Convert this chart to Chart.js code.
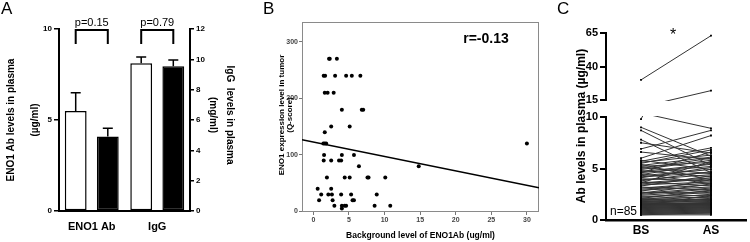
<!DOCTYPE html>
<html>
<head>
<meta charset="utf-8">
<script src="https://cdn.jsdelivr.net/npm/chart.js@4.4.0/dist/chart.umd.min.js"></script>
<style>
  body { margin: 0; background: #fff; }
  #wrap { position: relative; width: 750px; height: 242px; overflow: hidden; font-family: "Liberation Sans", Arial, sans-serif; }
  canvas { position: absolute; top: 0; }
  .tag { position: absolute; top: 0; font-size: 17px; line-height: 17px; color: #000; }
</style>
</head>
<body>
<div id="wrap">
  <canvas id="chartA" width="250" height="242" style="left:0"></canvas>
  <canvas id="chartB" width="300" height="242" style="left:250px"></canvas>
  <canvas id="chartCLow" width="210" height="242" style="left:540px"></canvas>
  <canvas id="chartCHigh" width="210" height="242" style="left:540px"></canvas>
  <div class="tag" style="left:1px">A</div>
  <div class="tag" style="left:263px">B</div>
  <div class="tag" style="left:557px">C</div>
</div>
<script>
// ---------- panel A: mean + SEM, before (white) / after (black)
const groupLabels = ['ENO1 Ab', 'IgG'];
const eno1Mean = [5.5, 4.1];      // µg/ml, left axis
const eno1Upper = [6.5, 4.55];
const iggMean = [9.75, 9.55];     // mg/ml, right axis
const iggUpper = [10.15, 9.95];
const pLabels = ['p=0.15', 'p=0.79'];

// ---------- panel B: scatter + fit line
const bgLevel = [2.2, 2.3, 3.3,
  1.45, 1.65, 3.05, 4.6, 5.4, 6.6,
  1.6, 2.0, 2.85,
  4.0, 6.8, 7.0,
  2.5, 5.1,
  1.6,
  1.4, 1.6, 1.8,
  1.5, 4.0, 5.7,
  1.45, 2.5, 3.6, 3.9,
  6.4, 14.8,
  1.9, 4.4, 5.1, 7.6, 7.75, 10.1,
  0.6, 2.5,
  1.1, 2.1, 2.6, 3.9, 5.3, 8.9,
  0.8, 2.7, 5.5, 5.7,
  2.95, 4.0, 4.4, 4.6, 8.6, 10.8,
  4.0,
  30];
const qScore = [270, 270, 270,
  240, 240, 240, 240, 240, 240,
  210, 210, 210,
  180, 180, 180,
  150, 150,
  140,
  120, 120, 120,
  100, 100, 100,
  90, 90, 90, 90,
  80, 80,
  60, 60, 60, 60, 60, 60,
  40, 40,
  30, 30, 30, 30, 30, 30,
  20, 20, 20, 20,
  10, 10, 10, 10, 10, 10,
  5,
  120];
const fitX = [-1.6, 31.7];
const fitY = [127, 42];
const rLabel = 'r=-0.13';

// ---------- panel C: paired values, n=85
const pairLabels = ['BS', 'AS'];
const bsLevel = [9.0, 8.7, 7.8, 7.5, 6.9, 6.6, 6.0, 5.8, 5.7, 5.6,
  5.5, 5.4, 5.3, 5.2, 5.0, 4.9, 4.8, 4.7, 4.6, 4.5,
  4.4, 4.3, 4.2, 4.1, 4.0, 3.9, 3.8, 3.7, 3.6, 3.5,
  3.4, 3.3, 3.2, 3.1, 3.0, 2.9, 2.8, 2.7, 2.6, 2.5,
  2.4, 2.3, 2.2, 2.1, 2.0, 2.0, 1.9, 1.9, 1.8, 1.8,
  1.7, 1.7, 1.6, 1.6, 1.5, 1.5, 1.4, 1.4, 1.3, 1.3,
  1.2, 1.2, 1.1, 1.1, 1.0, 1.0, 0.9, 0.9, 0.8, 0.8,
  0.7, 0.7, 0.6, 0.6, 0.5, 0.5, 4.6, 3.6, 2.6, 2.1,
  1.4, 5.1, 9.8, 10.4, 30];
const asLevel = [6.2, 5.3, 4.6, 6.5, 8.7, 5.9, 8.2, 4.9, 7.0, 6.3,
  6.8, 3.9, 6.1, 5.6, 6.0, 5.8, 4.2, 5.4, 5.2, 3.5,
  5.5, 4.9, 4.6, 5.1, 3.8, 4.4, 4.7, 3.3, 4.1, 4.0,
  3.7, 4.3, 2.9, 3.6, 3.4, 3.2, 3.9, 2.6, 3.1, 3.0,
  2.8, 2.4, 2.7, 2.2, 2.5, 1.9, 2.3, 2.0, 2.1, 1.7,
  1.8, 2.0, 1.6, 1.9, 1.5, 1.7, 1.4, 1.6, 1.3, 1.5,
  1.2, 1.4, 1.1, 1.3, 1.0, 1.2, 0.9, 1.1, 0.8, 1.0,
  0.7, 0.9, 0.6, 0.8, 0.5, 0.7, 6.6, 5.7, 3.5, 2.9,
  2.4, 4.5, 22, 8.9, 63];

const FONT = "'Liberation Sans', Arial, sans-serif";
Chart.defaults.font.family = FONT;
Chart.defaults.color = '#000';
Chart.defaults.animation = false;
Chart.defaults.plugins.legend.display = false;
Chart.defaults.plugins.tooltip.enabled = false;

function vtext(ctx, text, x, y, angle, font) {
  ctx.save();
  ctx.translate(x, y);
  ctx.rotate(angle);
  ctx.font = font;
  ctx.fillStyle = '#000';
  ctx.textAlign = 'center';
  ctx.textBaseline = 'middle';
  ctx.fillText(text, 0, 0);
  ctx.restore();
}

// ---------- A
const barBase = { borderColor: '#000', borderWidth: 1.5, borderSkipped: false, skipNull: true,
  barPercentage: 0.68, categoryPercentage: 0.98 };
const panelAExtras = {
  id: 'panelAExtras',
  afterDatasetsDraw(chart) {
    const ctx = chart.ctx;
    const area = chart.chartArea;
    ctx.save();
    ctx.strokeStyle = '#000';
    ctx.lineWidth = 1.5;
    chart.data.datasets.forEach((ds, i) => {
      const scale = chart.scales[ds.yAxisID];
      chart.getDatasetMeta(i).data.forEach((bar, j) => {
        if (ds.data[j] == null) return;
        const top = scale.getPixelForValue(ds.errTop[j]);
        ctx.beginPath();
        ctx.moveTo(bar.x, bar.y);
        ctx.lineTo(bar.x, top);
        ctx.moveTo(bar.x - 5, top);
        ctx.lineTo(bar.x + 5, top);
        ctx.stroke();
      });
    });
    // brackets with p values
    ctx.lineWidth = 2;
    groupLabels.forEach((g, j) => {
      const xs = [];
      chart.data.datasets.forEach((ds, i) => {
        if (ds.data[j] != null) xs.push(chart.getDatasetMeta(i).data[j].x);
      });
      const top = area.top + 1;
      ctx.beginPath();
      ctx.moveTo(xs[0], top + 14);
      ctx.lineTo(xs[0], top);
      ctx.lineTo(xs[1], top);
      ctx.lineTo(xs[1], top + 14);
      ctx.stroke();
      ctx.font = '11px ' + FONT;
      ctx.fillStyle = '#000';
      ctx.textAlign = 'center';
      ctx.textBaseline = 'middle';
      ctx.fillText(pLabels[j], (xs[0] + xs[1]) / 2, top - 7);
    });
    ctx.restore();
    const cy = (area.top + area.bottom) / 2;
    vtext(ctx, 'ENO1 Ab levels in plasma', 11, cy, -Math.PI / 2, 'bold 10px ' + FONT);
    vtext(ctx, '(µg/ml)', 35, cy, -Math.PI / 2, 'bold 10px ' + FONT);
    vtext(ctx, 'IgG  levels in plasma', 230, cy - 5, Math.PI / 2, 'bold 10px ' + FONT);
    vtext(ctx, '(mg/ml)', 213, cy - 5, Math.PI / 2, 'bold 10px ' + FONT);
  }
};

new Chart(document.getElementById('chartA'), {
  type: 'bar',
  data: {
    labels: groupLabels,
    datasets: [
      { ...barBase, data: [eno1Mean[0], null], errTop: [eno1Upper[0], null], yAxisID: 'y', backgroundColor: '#fff' },
      { ...barBase, data: [eno1Mean[1], null], errTop: [eno1Upper[1], null], yAxisID: 'y', backgroundColor: '#000' },
      { ...barBase, data: [null, iggMean[0]], errTop: [null, iggUpper[0]], yAxisID: 'y1', backgroundColor: '#fff' },
      { ...barBase, data: [null, iggMean[1]], errTop: [null, iggUpper[1]], yAxisID: 'y1', backgroundColor: '#000' }
    ]
  },
  options: {
    responsive: false,
    layout: { padding: { top: 29, left: 0, right: 0, bottom: 0 } },
    scales: {
      x: {
        grid: { display: false, drawTicks: false },
        border: { color: '#000', width: 2 },
        ticks: { font: { size: 11, weight: 'bold' }, padding: 9 },
        afterFit: s => { s.height = 31; }
      },
      y: {
        position: 'left', min: 0, max: 10,
        ticks: { stepSize: 5, font: { size: 8, weight: 'bold' }, padding: 2 },
        grid: { drawOnChartArea: false, tickLength: 5, color: '#000', lineWidth: 1.5 },
        border: { color: '#000', width: 2 },
        afterFit: s => { s.width = 59; }
      },
      y1: {
        position: 'right', min: 0, max: 12,
        ticks: { stepSize: 2, font: { size: 8, weight: 'bold' }, padding: 2 },
        grid: { drawOnChartArea: false, tickLength: 4, color: '#000', lineWidth: 1.5 },
        border: { color: '#000', width: 2 },
        afterFit: s => { s.width = 60; }
      }
    }
  },
  plugins: [panelAExtras]
});

// ---------- B
const panelBExtras = {
  id: 'panelBExtras',
  beforeDatasetsDraw(chart) {
    const a = chart.chartArea;
    const ctx = chart.ctx;
    ctx.save();
    ctx.strokeStyle = '#8a8a8a';
    ctx.lineWidth = 1;
    ctx.strokeRect(a.left + 0.5, a.top + 0.5, a.right - a.left - 1, a.bottom - a.top - 1);
    ctx.restore();
  },
  afterDraw(chart) {
    const a = chart.chartArea;
    const ctx = chart.ctx;
    const cy = (a.top + a.bottom) / 2 - 2;
    vtext(ctx, 'ENO1 expression level in tumor', a.left - 20, cy, -Math.PI / 2, 'bold 8px ' + FONT);
    vtext(ctx, '(Q-score)', a.left - 12, cy, -Math.PI / 2, 'bold 8px ' + FONT);
    vtext(ctx, 'Background level of ENO1Ab (ug/ml)', (a.left + a.right) / 2, 236, 0, 'bold 8.5px ' + FONT);
    vtext(ctx, rLabel, 236, 39, 0, 'bold 14px ' + FONT);
  }
};

new Chart(document.getElementById('chartB'), {
  type: 'scatter',
  data: {
    datasets: [
      { data: bgLevel.map((x, i) => ({ x, y: qScore[i] })), backgroundColor: '#000', borderColor: '#000',
        pointRadius: 2, pointBorderWidth: 0 },
      { data: fitX.map((x, i) => ({ x, y: fitY[i] })), showLine: true, borderColor: '#000', borderWidth: 1.5,
        pointRadius: 0 }
    ]
  },
  options: {
    responsive: false,
    layout: { padding: { top: 22, right: 11, left: 0, bottom: 0 } },
    scales: {
      x: {
        type: 'linear', min: fitX[0], max: fitX[1],
        ticks: { stepSize: 5, includeBounds: false, font: { size: 7, weight: 'bold' }, color: '#444', padding: 1 },
        grid: { drawOnChartArea: false, tickLength: 3, color: '#777' },
        border: { display: false },
        afterFit: s => { s.height = 30; }
      },
      y: {
        min: -1, max: 335,
        ticks: { stepSize: 100, includeBounds: false, font: { size: 7, weight: 'bold' }, color: '#444', padding: 1 },
        grid: { drawOnChartArea: false, tickLength: 3, color: '#777' },
        border: { display: false },
        afterFit: s => { s.width = 52; }
      }
    }
  },
  plugins: [panelBExtras]
});

// ---------- C (broken axis: two stacked charts)
const pairSets = bsLevel.map((b, i) => ({
  data: [b, asLevel[i]],
  borderColor: '#333', borderWidth: 1,
  pointStyle: 'rect', pointRadius: 1.3, pointBackgroundColor: '#000', pointBorderWidth: 0,
  clip: 1
}));
const yAxisC = (min, max, step) => ({
  min, max,
  ticks: { stepSize: step, font: { size: 11, weight: 'bold' }, padding: 2 },
  grid: { drawOnChartArea: false, tickLength: 6, color: '#000', lineWidth: 2 },
  border: { color: '#000', width: 2 },
  afterFit: s => { s.width = 66; }
});

const panelCExtras = {
  id: 'panelCExtras',
  afterDraw(chart) {
    const ctx = chart.ctx;
    vtext(ctx, 'Ab levels in plasma (µg/ml)', 42, 126, -Math.PI / 2, 'bold 12px ' + FONT);
    ctx.save();
    ctx.font = '12px ' + FONT;
    ctx.fillStyle = '#000';
    ctx.textBaseline = 'middle';
    ctx.fillText('n=85', 70, 212);
    ctx.font = '16px ' + FONT;
    ctx.textAlign = 'center';
    ctx.fillText('*', 133, 36);
    ctx.restore();
  }
};

new Chart(document.getElementById('chartCLow'), {
  type: 'line',
  data: { labels: pairLabels, datasets: pairSets },
  options: {
    responsive: false,
    layout: { padding: { top: 117, right: 0, left: 0, bottom: 0 } },
    scales: {
      x: {
        offset: true,
        grid: { display: false, drawTicks: false },
        border: { color: '#000', width: 2.5 },
        ticks: { font: { size: 12, weight: 'bold' }, padding: 3 },
        afterFit: s => { s.height = 22; }
      },
      y: yAxisC(0, 10, 5)
    }
  },
  plugins: [panelCExtras]
});

new Chart(document.getElementById('chartCHigh'), {
  type: 'line',
  data: { labels: pairLabels, datasets: pairSets.map(d => ({ ...d })) },
  options: {
    responsive: false,
    layout: { padding: { top: 33, right: 0, left: 0, bottom: 142 } },
    scales: {
      x: { display: false, offset: true },
      y: yAxisC(15, 65, 25)
    }
  }
});
</script>
</body>
</html>
